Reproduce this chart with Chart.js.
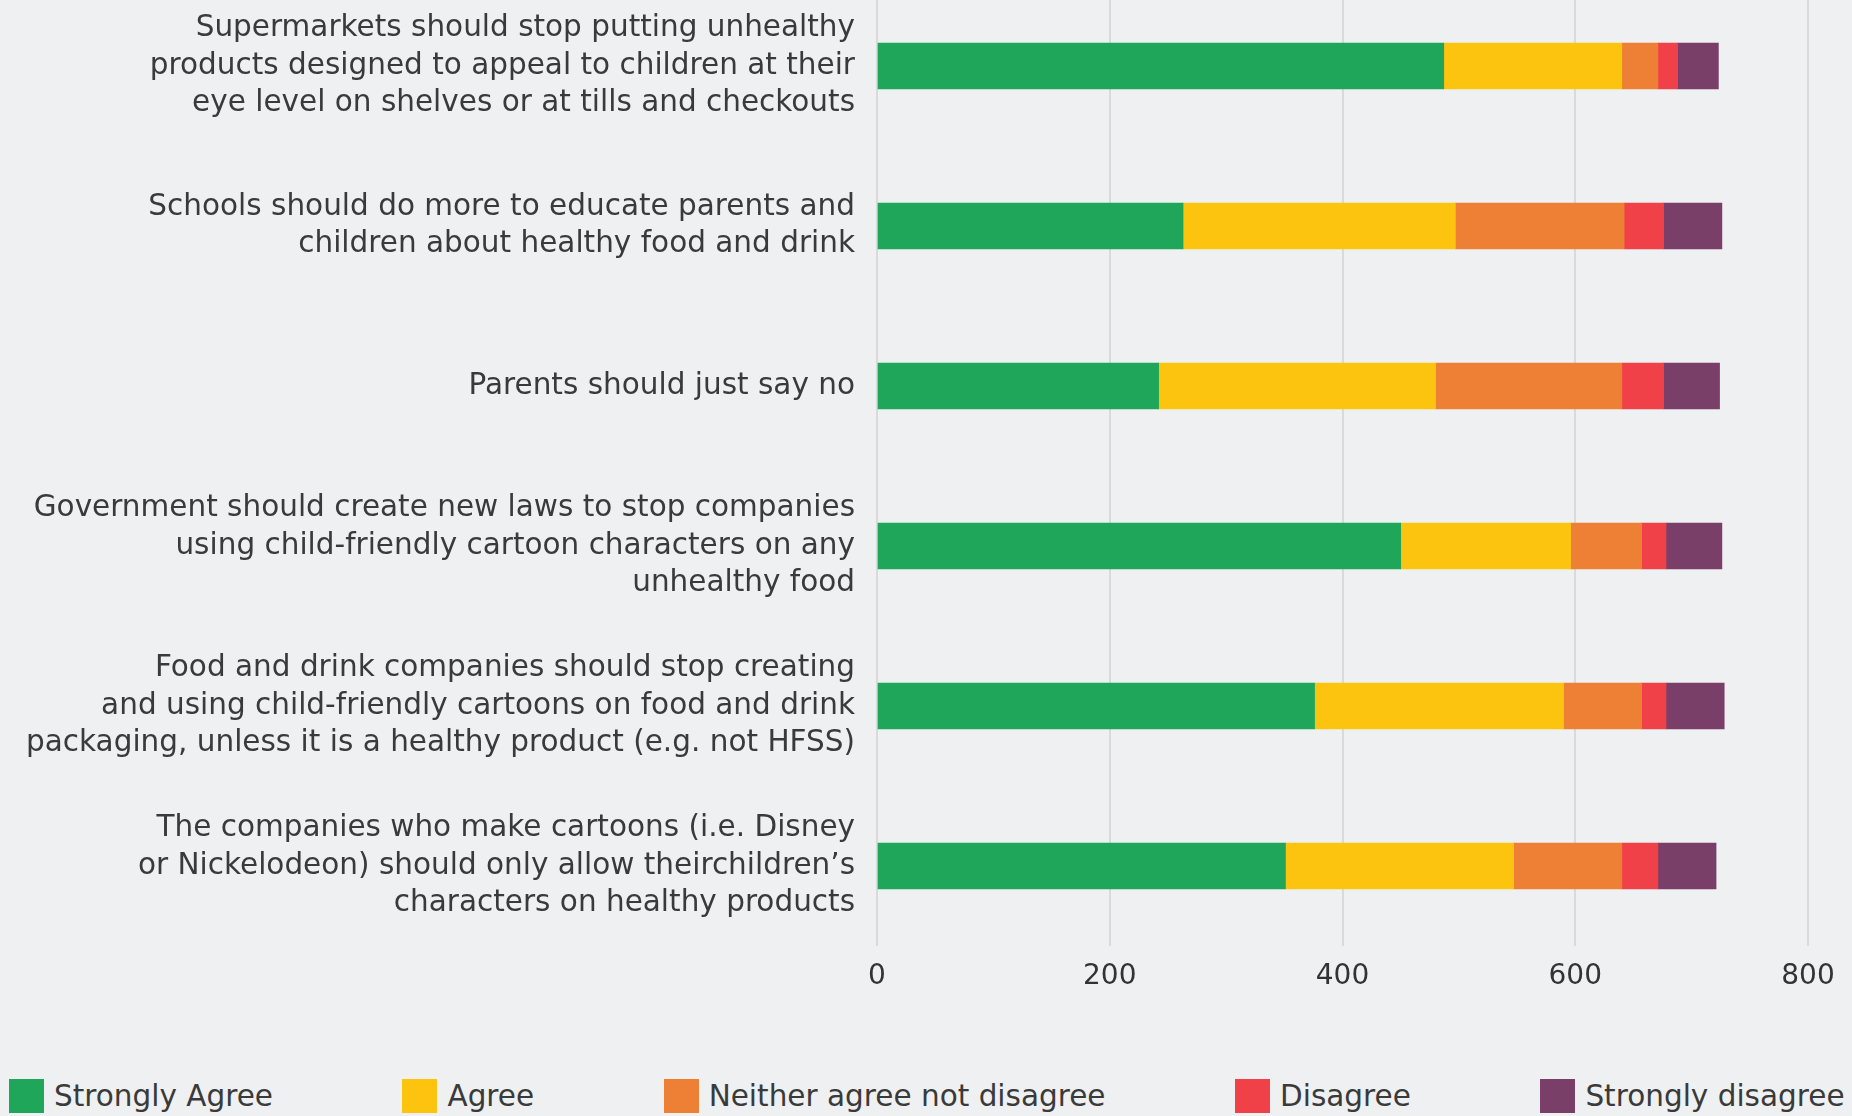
<!DOCTYPE html>
<html>
<head>
<meta charset="utf-8">
<script src="https://cdn.jsdelivr.net/npm/chart.js@4"></script>
<style>
  html, body { margin: 0; padding: 0; background: #eff0f1; width: 1852px; height: 1116px; overflow: hidden; }
  #wrap { position: absolute; left: 0; top: -14px; width: 1852px; height: 1010px; }
  #legend { position: absolute; left: 9px; top: 1079px; height: 34px; display: flex; font-family: "DejaVu Sans", sans-serif; font-size: 29.5px; color: #3a3a3a; white-space: nowrap; }
  .item { display: flex; align-items: center; margin-right: 129.5px; }
  .box { width: 35px; height: 34px; margin-right: 10px; }
</style>
</head>
<body>
<div id="wrap"><canvas id="c"></canvas></div>
<div id="legend"></div>
<script>
const categories = [
  ["Supermarkets should stop putting unhealthy", "products designed to appeal to children at their", "eye level on shelves or at tills and checkouts"],
  ["Schools should do more to educate parents and", "children about healthy food and drink"],
  "Parents should just say no",
  ["Government should create new laws to stop companies", "using child-friendly cartoon characters on any", "unhealthy food"],
  ["Food and drink companies should stop creating", "and using child-friendly cartoons on food and drink", "packaging, unless it is a healthy product (e.g. not HFSS)"],
  ["The companies who make cartoons (i.e. Disney", "or Nickelodeon) should only allow theirchildren’s", "characters on healthy products"]
];
const seriesNames = ["Strongly Agree", "Agree", "Neither agree not disagree", "Disagree", "Strongly disagree"];
const stronglyAgree    = [487, 263, 242, 450, 376, 351];
const agree            = [153, 234, 238, 146, 214, 196];
const neither          = [31, 145, 160, 61, 67, 93];
const disagree         = [17, 34, 36, 21, 21, 31];
const stronglyDisagree = [35, 50, 48, 48, 50, 50];
const xTicks = [0, 200, 400, 600, 800];
const colors = ["#1fa65a", "#fcc30f", "#ee8035", "#f04048", "#793f68"];

const seriesValues = [stronglyAgree, agree, neither, disagree, stronglyDisagree];

const legend = document.getElementById('legend');
seriesNames.forEach((n, i) => {
  const it = document.createElement('div'); it.className = 'item';
  if (i === seriesNames.length - 1) it.style.marginRight = '0';
  const b = document.createElement('div'); b.className = 'box'; b.style.background = colors[i];
  const t = document.createElement('span'); t.textContent = n;
  it.appendChild(b); it.appendChild(t); legend.appendChild(it);
});

new Chart(document.getElementById('c'), {
  type: 'bar',
  data: {
    labels: categories,
    datasets: seriesNames.map((n, i) => ({
      label: n,
      data: seriesValues[i],
      backgroundColor: colors[i],
      borderWidth: 0,
      barThickness: 46
    }))
  },
  options: {
    indexAxis: 'y',
    responsive: true,
    maintainAspectRatio: false,
    animation: false,
    layout: { padding: { left: 0, right: 44, top: 0, bottom: 0 } },
    plugins: { legend: { display: false }, tooltip: { enabled: false } },
    scales: {
      x: {
        stacked: true,
        min: 0, max: 800,
        afterBuildTicks: (s) => { s.ticks = xTicks.map(v => ({ value: v })); },
        afterFit: (s) => { s.height = 50; s.paddingLeft = 0; s.paddingRight = 0; },
        grid: { color: "#d8dadc", lineWidth: 2, tickLength: 0, drawTicks: true },
        border: { display: false },
        ticks: { padding: 14, color: "#333", font: { family: "DejaVu Sans", size: 28 } }
      },
      y: {
        stacked: true,
        afterFit: (s) => { s.width = 877; s.paddingTop = 0; s.paddingBottom = 0; },
        grid: { display: false },
        border: { display: false },
        ticks: { padding: 14, color: "#3a3a3a", font: { family: "DejaVu Sans", size: 29.5, lineHeight: 1.27 } }
      }
    }
  }
});
</script>
</body>
</html>
